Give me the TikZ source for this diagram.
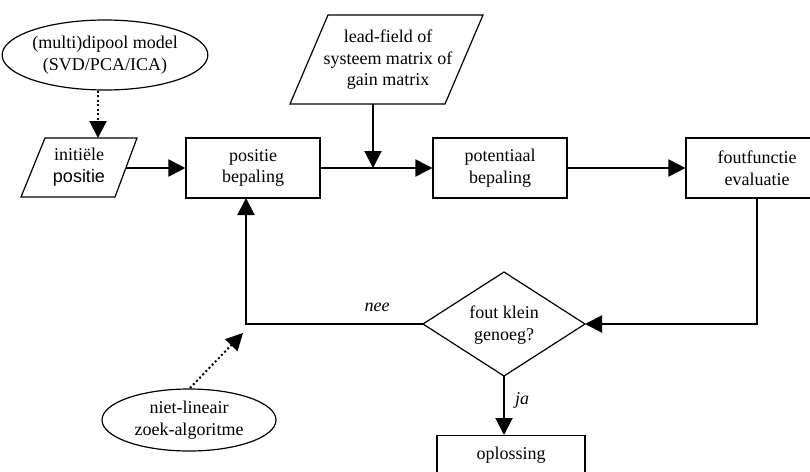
\documentclass[tikz,border=0pt]{standalone}
\usepackage{fontspec}
\setmainfont{Liberation Serif}
\newfontfamily\arialfont{Liberation Sans}
\usetikzlibrary{arrows.meta,shapes.geometric}
\begin{document}
\begin{tikzpicture}[x=1pt,y=-1pt,
  txt/.style={align=center,font=\fontsize{18}{21.5}\selectfont,inner sep=0pt},
  box/.style={txt,draw,line width=1.2pt,minimum width=134pt,minimum height=60pt},
  ell/.style={txt,draw,ellipse,line width=1.2pt},
  shp/.style={line width=1.2pt,line join=miter},
  conn/.style={line width=2pt,-{Triangle[length=17pt,width=17pt]}},
  dotconn/.style={conn,dash pattern=on 2pt off 2.5pt},
  lbl/.style={txt,font=\fontsize{18}{21.5}\selectfont\itshape}
]
\useasboundingbox (0,0) rectangle (810,471);

% ellipses
\node[ell,minimum width=194pt,minimum height=70pt] (dip) at (105,55) {(multi)dipool model\\(SVD/PCA/ICA)};
\node[ell,minimum width=174pt,minimum height=62pt] (nlin) at (189,420) {niet-lineair\\zoek-algoritme};

% parallelogram initiele positie
\coordinate (iniTL) at (45,138);
\coordinate (iniTR) at (137,138);
\coordinate (iniBR) at (115,197);
\coordinate (iniBL) at (21,197);
\draw[shp] (iniTL) -- (iniTR) -- (iniBR) -- (iniBL) -- cycle;
\node[txt] (ini) at (79,167) {initiële\\{\arialfont positie}};
\coordinate (iniTop) at (98,138);
\coordinate (iniRight) at (126,168);

% parallelogram lead-field
\coordinate (ldTL) at (328,15);
\coordinate (ldTR) at (483,15);
\coordinate (ldBR) at (445,104);
\coordinate (ldBL) at (290,104);
\draw[shp] (ldTL) -- (ldTR) -- (ldBR) -- (ldBL) -- cycle;
\node[txt] (lead) at (388,60) {lead-field of\\systeem matrix of\\gain matrix};
\coordinate (ldBot) at (373,104);
\coordinate (ldHit) at (373,168);

% boxes
\node[box] (pos) at (253,168) {positie\\bepaling};
\node[box] (pot) at (500,168) {potentiaal\\bepaling};
\node[box,minimum width=142pt] (fout) at (757,168) {foutfunctie\\evaluatie};
\node[box,anchor=north,minimum width=148pt,minimum height=40pt] (opl) at (511,435) {oplossing};

% diamond
\coordinate (diaL) at (423,324);
\coordinate (diaT) at (504,272);
\coordinate (diaR) at (585,324);
\coordinate (diaB) at (504,376);
\draw[shp] (diaL) -- (diaT) -- (diaR) -- (diaB) -- cycle;
\node[txt] (dia) at (504,325) {fout klein\\genoeg?};

% helper coordinates
\coordinate (posIn) at (246,198);
\coordinate (corner) at (246,324);
\coordinate (nlinStart) at (190,388);
\coordinate (nlinTip) at (243,333);
\coordinate (foutOut) at (757,198);
\coordinate (foutCorner) at (757,324);
\coordinate (oplIn) at (504,435);

% connectors
\draw[dotconn] (dip.south -| iniTop) -- (iniTop);
\draw[conn] (iniRight) -- (pos.west);
\draw[line width=2pt] (pos.east) -- (ldHit);
\draw[conn] (ldHit) -- (pot.west);
\draw[conn] (ldBot) -- (ldHit);
\draw[conn] (pot.east) -- (fout.west);
\draw[conn] (foutOut) -- (foutCorner) -- (diaR);
\draw[conn] (diaL) -- (corner) -- (posIn);
\draw[dotconn] (nlinStart) -- (nlinTip);
\draw[conn] (diaB) -- (oplIn);

% labels
\node[lbl] (nee) at (377,307) {nee};
\node[lbl] (ja) at (522,400) {ja};
\end{tikzpicture}
\end{document}
